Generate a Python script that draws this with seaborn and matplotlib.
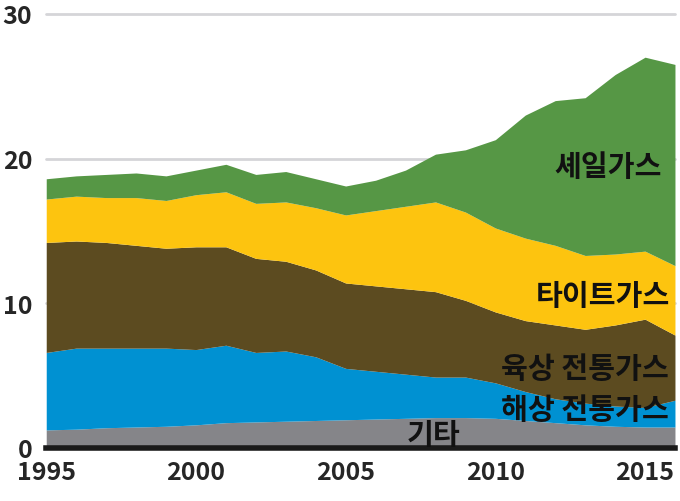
import pandas as pd
import seaborn as sns
import matplotlib.pyplot as plt

# 데이터 (단위: 조 입방피트 추정, 그림에서 읽음)
years = list(range(1995, 2017))
other = [1.25, 1.3, 1.4, 1.45, 1.5, 1.6, 1.75, 1.8, 1.85, 1.9, 1.95,
         2.0, 2.05, 2.1, 2.1, 2.05, 1.9, 1.75, 1.6, 1.5, 1.45, 1.45]
offshore = [5.35, 5.6, 5.5, 5.45, 5.4, 5.2, 5.35, 4.8, 4.85, 4.4, 3.55,
            3.3, 3.05, 2.8, 2.8, 2.45, 2.0, 1.65, 1.5, 1.4, 1.35, 1.85]
onshore = [7.6, 7.4, 7.3, 7.1, 6.9, 7.1, 6.8, 6.5, 6.2, 6.0, 5.9,
           5.9, 5.9, 5.9, 5.3, 4.9, 4.9, 5.1, 5.1, 5.6, 6.1, 4.5]
tight = [3.0, 3.1, 3.1, 3.3, 3.3, 3.6, 3.8, 3.8, 4.1, 4.3, 4.7,
         5.2, 5.7, 6.2, 6.1, 5.8, 5.7, 5.5, 5.1, 4.9, 4.7, 4.8]
shale = [1.4, 1.4, 1.6, 1.7, 1.7, 1.7, 1.9, 2.0, 2.1, 2.0, 2.0,
         2.1, 2.5, 3.3, 4.3, 6.1, 8.5, 10.0, 10.9, 12.4, 13.4, 13.9]

layer_names = ['기타', '해상 전통가스', '육상 전통가스', '타이트가스', '셰일가스']
layer_colors = ['#858589', '#0091d2', '#5c4b20', '#fdc40f', '#569745']
y_ticks = [0, 10, 20, 30]
x_ticks = [1995, 2000, 2005, 2010, 2015]

df = pd.DataFrame({'year': years, '기타': other, '해상 전통가스': offshore,
                   '육상 전통가스': onshore, '타이트가스': tight, '셰일가스': shale})

sns.set_style('white')
plt.rcParams['font.family'] = ['Noto Sans CJK KR', 'DejaVu Sans']

fig = plt.figure(figsize=(6.8, 5.02), dpi=100)
ax = fig.add_axes([0.068, 0.1056, 0.9246, 0.865])

ax.stackplot(df['year'], *[df[n] for n in layer_names],
             colors=layer_colors, linewidth=0, zorder=2)

ax.set_xlim(1995, 2016)
ax.set_ylim(0, 30)
ax.set_yticks(y_ticks)
ax.set_xticks(x_ticks)
ax.yaxis.grid(True, color='#d5d5d8', linewidth=2, zorder=0)
ax.set_axisbelow(True)

sns.despine(ax=ax, left=True, top=True, right=True)
ax.spines['bottom'].set_linewidth(4)
ax.spines['bottom'].set_color('#1a1a1a')
ax.spines['bottom'].set_zorder(3)
ax.tick_params(axis='x', length=8, width=4, color='#1a1a1a', pad=1,
               labelsize=18)
ax.tick_params(axis='y', length=0, pad=10, labelsize=18)
for lab in ax.get_xticklabels() + ax.get_yticklabels():
    lab.set_fontweight('bold')
ax.set_xlabel('')
ax.set_ylabel('')
for g in ax.get_ygridlines():
    g.set_clip_on(False)

# 범주 이름
lab_kw = dict(fontsize=21, fontweight='bold', color='#111111', zorder=5)
ax.text(2015.55, 19.5, '셰일가스', ha='right', va='center', **lab_kw)
ax.text(2015.85, 10.6, '타이트가스', ha='right', va='center', **lab_kw)
ax.text(2015.8, 5.5, '육상 전통가스', ha='right', va='center', **lab_kw)
ax.text(2015.8, 2.7, '해상 전통가스', ha='right', va='center', **lab_kw)
ax.text(2007.95, 0.95, '기타', ha='center', va='center', **lab_kw)

plt.savefig('out.png', dpi=100)
